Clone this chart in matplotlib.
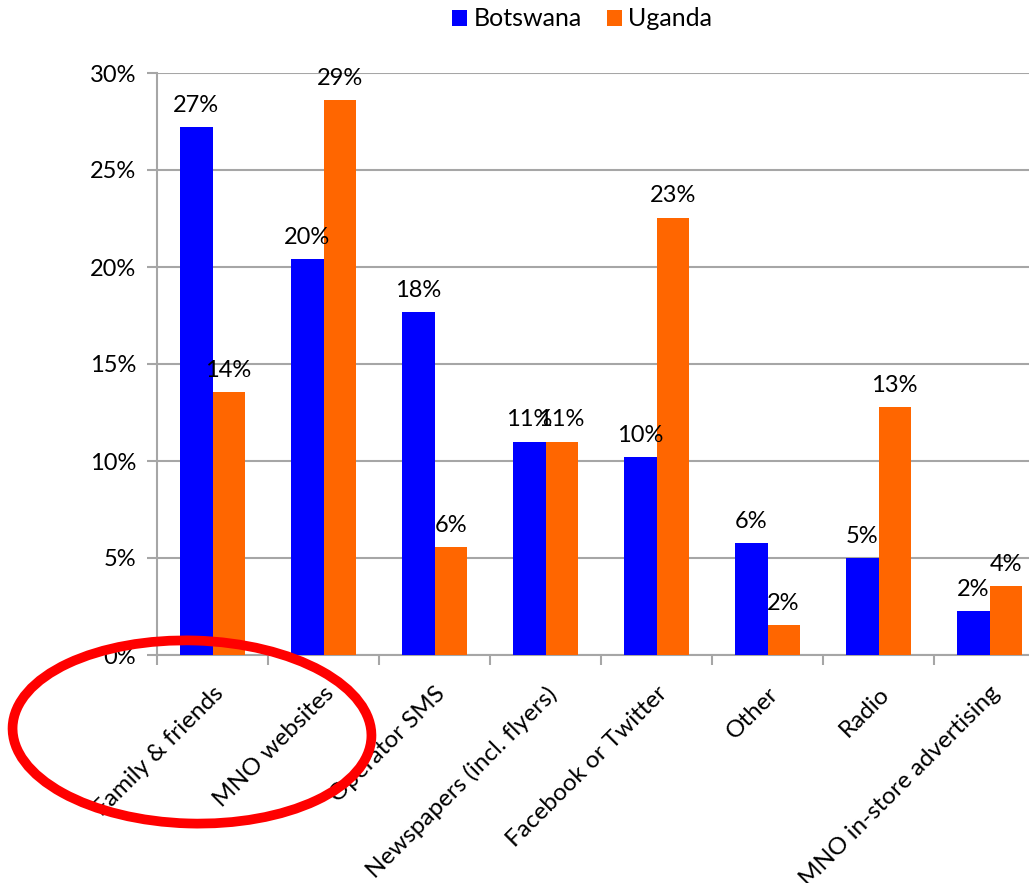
import matplotlib
matplotlib.use('Agg')
import matplotlib.pyplot as plt
import numpy as np
from matplotlib.patches import Ellipse
from matplotlib.ticker import FuncFormatter, MultipleLocator

plt.rcParams['font.family'] = ['Lato', 'DejaVu Sans']

categories = ['Family & friends', 'MNO websites', 'Operator SMS', 'Newspapers (incl. flyers)',
              'Facebook or Twitter', 'Other', 'Radio', 'MNO in-store advertising']
botswana = [27.2, 20.4, 17.7, 11.0, 10.2, 5.75, 5.0, 2.25]
uganda = [13.55, 28.6, 5.55, 11.0, 22.55, 1.55, 12.8, 3.55]

BLUE = '#0000FF'
ORANGE = '#FF6600'
GRID = '#A6A6A6'

W, H = 1029, 883
fig = plt.figure(figsize=(W / 100, H / 100), dpi=100)
# plot area runs past the right edge, as in the original slide crop
ax = fig.add_axes([157 / W, 228 / H, 888 / W, 582 / H])

x = np.arange(len(categories))
w = 0.29
b1 = ax.bar(x - w / 2, botswana, w, color=BLUE, label='Botswana', zorder=3)
b2 = ax.bar(x + w / 2, uganda, w, color=ORANGE, label='Uganda', zorder=3)

for bars, vals in ((b1, botswana), (b2, uganda)):
    for rect, v in zip(bars, vals):
        ax.annotate(f'{v:.0f}%', (rect.get_x() + rect.get_width() / 2, v),
                    xytext=(0, 8), textcoords='offset points',
                    ha='center', va='bottom', fontsize=17, zorder=4)

ax.set_xlim(-0.5, len(categories) - 0.5)
ax.set_ylim(0, 30)
ax.yaxis.set_major_locator(MultipleLocator(5))
ax.yaxis.set_major_formatter(FuncFormatter(lambda v, _: f'{v:.0f}%'))
ax.yaxis.grid(True, color=GRID, linewidth=1.5, zorder=0)
ax.set_axisbelow(True)

ax.set_xticks(x)
ax.set_xticklabels(categories, rotation=45, ha='right', rotation_mode='anchor', fontsize=17.5)
ax.set_xticks(np.arange(-0.5, len(categories), 1), minor=True)
ax.tick_params(axis='x', which='major', length=0, pad=20)
ax.tick_params(axis='x', which='minor', length=7, width=1.5, color=GRID)
ax.tick_params(axis='y', length=7, width=1.5, color=GRID, labelsize=17, pad=8)

for s in ('top', 'right'):
    ax.spines[s].set_visible(False)
for s in ('left', 'bottom'):
    ax.spines[s].set_color(GRID)
    ax.spines[s].set_linewidth(1.5)

fig.legend(handles=[b1, b2], loc='upper center', bbox_to_anchor=(582 / W, 1.017),
           ncol=2, frameon=False, fontsize=18, handlelength=0.6, handleheight=0.6,
           handletextpad=0.25, columnspacing=1.0)

# red highlight ring around the first two categories
fig.add_artist(Ellipse((192 / W, 1 - 732 / H), 359 / W, 183 / H, angle=-2,
                       transform=fig.transFigure, fill=False, edgecolor='#FF0000',
                       linewidth=7, zorder=10))

fig.savefig('out.png', dpi=100)
